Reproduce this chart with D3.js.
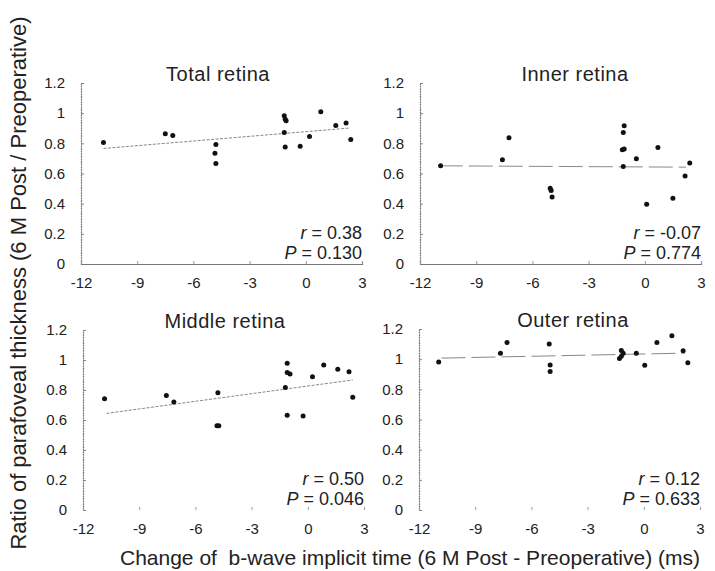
<!DOCTYPE html>
<html>
<head>
<meta charset="utf-8">
<script src="https://cdn.jsdelivr.net/npm/d3@7"></script>
<style>
  body { margin: 0; background: #fff; }
  svg text { font-family: "Liberation Sans", Arial, sans-serif; fill: #222; }
</style>
</head>
<body>
<div id="chart"></div>
<script>
// panel titles and stats
const panelTitles = ['Total retina', 'Inner retina', 'Middle retina', 'Outer retina'];
const rValues = ['0.38', '-0.07', '0.50', '0.12'];
const pValues = ['0.130', '0.774', '0.046', '0.633'];

const xTicks = [-12, -9, -6, -3, 0, 3];
const yTicks = [0, 0.2, 0.4, 0.6, 0.8, 1, 1.2];

// change of b-wave implicit time (ms), per panel
const totalX  = [-10.8, -7.5, -7.1, -4.8, -4.85, -4.8, -1.15, -1.1, -1.05, -1.15, -1.1, -0.3, 0.2, 0.8, 1.6, 2.15, 2.4];
const totalY  = [0.806, 0.863, 0.852, 0.793, 0.735, 0.666, 0.983, 0.96, 0.95, 0.872, 0.775, 0.781, 0.846, 1.01, 0.919, 0.934, 0.826];
const innerX  = [-10.9, -7.6, -7.25, -5.05, -5.0, -4.95, -1.1, -1.15, -1.2, -1.1, -1.15, -0.45, 0.1, 0.7, 1.5, 2.15, 2.4];
const innerY  = [0.651, 0.691, 0.837, 0.503, 0.487, 0.445, 0.917, 0.872, 0.757, 0.762, 0.646, 0.697, 0.396, 0.773, 0.436, 0.584, 0.669];
const middleX = [-10.85, -7.55, -7.15, -4.8, -4.85, -4.75, -1.1, -1.1, -0.95, -1.2, -1.1, -0.25, 0.25, 0.85, 1.6, 2.2, 2.4];
const middleY = [0.742, 0.764, 0.72, 0.782, 0.562, 0.562, 0.978, 0.916, 0.907, 0.816, 0.631, 0.627, 0.889, 0.967, 0.938, 0.922, 0.751];
const outerX  = [-10.95, -7.65, -7.3, -5.05, -5.0, -5.0, -1.2, -1.1, -1.3, -1.2, -0.4, 0.05, 0.7, 1.5, 2.1, 2.35];
const outerY  = [0.981, 1.04, 1.111, 1.10, 0.961, 0.919, 1.058, 1.04, 1.005, 1.02, 1.04, 0.959, 1.111, 1.156, 1.056, 0.976];

// regression lines: [x0, y0, x1, y1]
const totalTrend  = [-10.8, 0.766, 2.3, 0.901];
const innerTrend  = [-11.0, 0.651, 2.2, 0.642];
const middleTrend = [-10.75, 0.644, 2.4, 0.867];
const outerTrend  = [-10.8, 1.007, 2.2, 1.04];

const panelX = [totalX, innerX, middleX, outerX];
const panelY = [totalY, innerY, middleY, outerY];
const panelTrend = [totalTrend, innerTrend, middleTrend, outerTrend];

// panel frames in page pixels
const frames = [
  { left: 81, top: 83, bottom: 264, xLine: true, titleX: 218 },
  { left: 420, top: 83, bottom: 264, xLine: true, titleX: 575 },
  { left: 83, top: 330, bottom: 510, xLine: false, titleX: 225 },
  { left: 419, top: 329, bottom: 510, xLine: false, titleX: 573 }
];
const plotWidth = 281;
const fontFamily = '"Liberation Sans", Arial, sans-serif';

const svg = d3.select('#chart').append('svg')
  .attr('width', 715)
  .attr('height', 571);

frames.forEach((f, i) => {
  const x = d3.scaleLinear().domain([-12, 3]).range([f.left, f.left + plotWidth]);
  const y = d3.scaleLinear().domain([0, 1.2]).range([f.bottom, f.top]);
  const g = svg.append('g');

  // y axis
  const yAxis = g.append('g')
    .attr('transform', `translate(${f.left},0)`)
    .call(d3.axisLeft(y).tickValues(yTicks).tickSize(-3).tickPadding(16)
      .tickFormat(d => String(+d.toFixed(1))));
  yAxis.select('.domain').attr('stroke', '#777').attr('stroke-width', 1.2).attr('stroke-dasharray', '2,0.6');
  yAxis.selectAll('.tick line').attr('stroke', '#888');
  yAxis.selectAll('.tick text').attr('font-size', 15).attr('fill', '#222')
    .attr('font-family', fontFamily);

  // x axis
  const xAxis = g.append('g')
    .attr('transform', `translate(0,${f.bottom})`)
    .call(d3.axisBottom(x).tickValues(xTicks).tickSize(-3).tickPadding(13)
      .tickFormat(d => String(d)));
  xAxis.select('.domain').attr('stroke', f.xLine ? '#777' : 'none').attr('stroke-width', 1.2);
  xAxis.selectAll('.tick line').attr('stroke', '#999');
  xAxis.selectAll('.tick text').attr('font-size', 15).attr('fill', '#222')
    .attr('font-family', fontFamily);

  // title
  g.append('text')
    .attr('x', f.titleX)
    .attr('y', f.top - 2)
    .attr('text-anchor', 'middle')
    .attr('font-size', 20)
    .attr('letter-spacing', 0.5)
    .text(panelTitles[i]);

  // regression line
  const t = panelTrend[i];
  g.append('line')
    .attr('x1', x(t[0])).attr('y1', y(t[1]))
    .attr('x2', x(t[2])).attr('y2', y(t[3]))
    .attr('stroke', '#888')
    .attr('stroke-width', 1)
    .attr('stroke-dasharray', i === 0 || i === 2 ? '3,1.5' : '24,6');

  // points
  g.selectAll('circle')
    .data(panelX[i].map((d, j) => [d, panelY[i][j]]))
    .enter().append('circle')
    .attr('cx', d => x(d[0]))
    .attr('cy', d => y(d[1]))
    .attr('r', 2.5)
    .attr('fill', '#111');

  // r and P
  const stats = g.append('text')
    .attr('text-anchor', 'end')
    .attr('font-size', 18);
  stats.append('tspan')
    .attr('x', f.left + plotWidth).attr('y', f.bottom - 25)
    .attr('font-style', 'italic').text('r');
  stats.append('tspan').text(' = ' + rValues[i]);
  const stats2 = g.append('text')
    .attr('text-anchor', 'end')
    .attr('font-size', 18);
  stats2.append('tspan')
    .attr('x', f.left + plotWidth).attr('y', f.bottom - 5)
    .attr('font-style', 'italic').text('P');
  stats2.append('tspan').text(' = ' + pValues[i]);
});

// shared axis labels
svg.append('text')
  .attr('x', 410)
  .attr('y', 565)
  .attr('text-anchor', 'middle')
  .attr('font-size', 21)
  .attr('xml:space', 'preserve')
  .text('Change of  b-wave implicit time (6 M Post - Preoperative) (ms)');

svg.append('text')
  .attr('transform', 'translate(26,283) rotate(-90)')
  .attr('text-anchor', 'middle')
  .attr('font-size', 22)
  .text('Ratio of parafoveal thickness (6 M Post / Preoperative)');
</script>
</body>
</html>
